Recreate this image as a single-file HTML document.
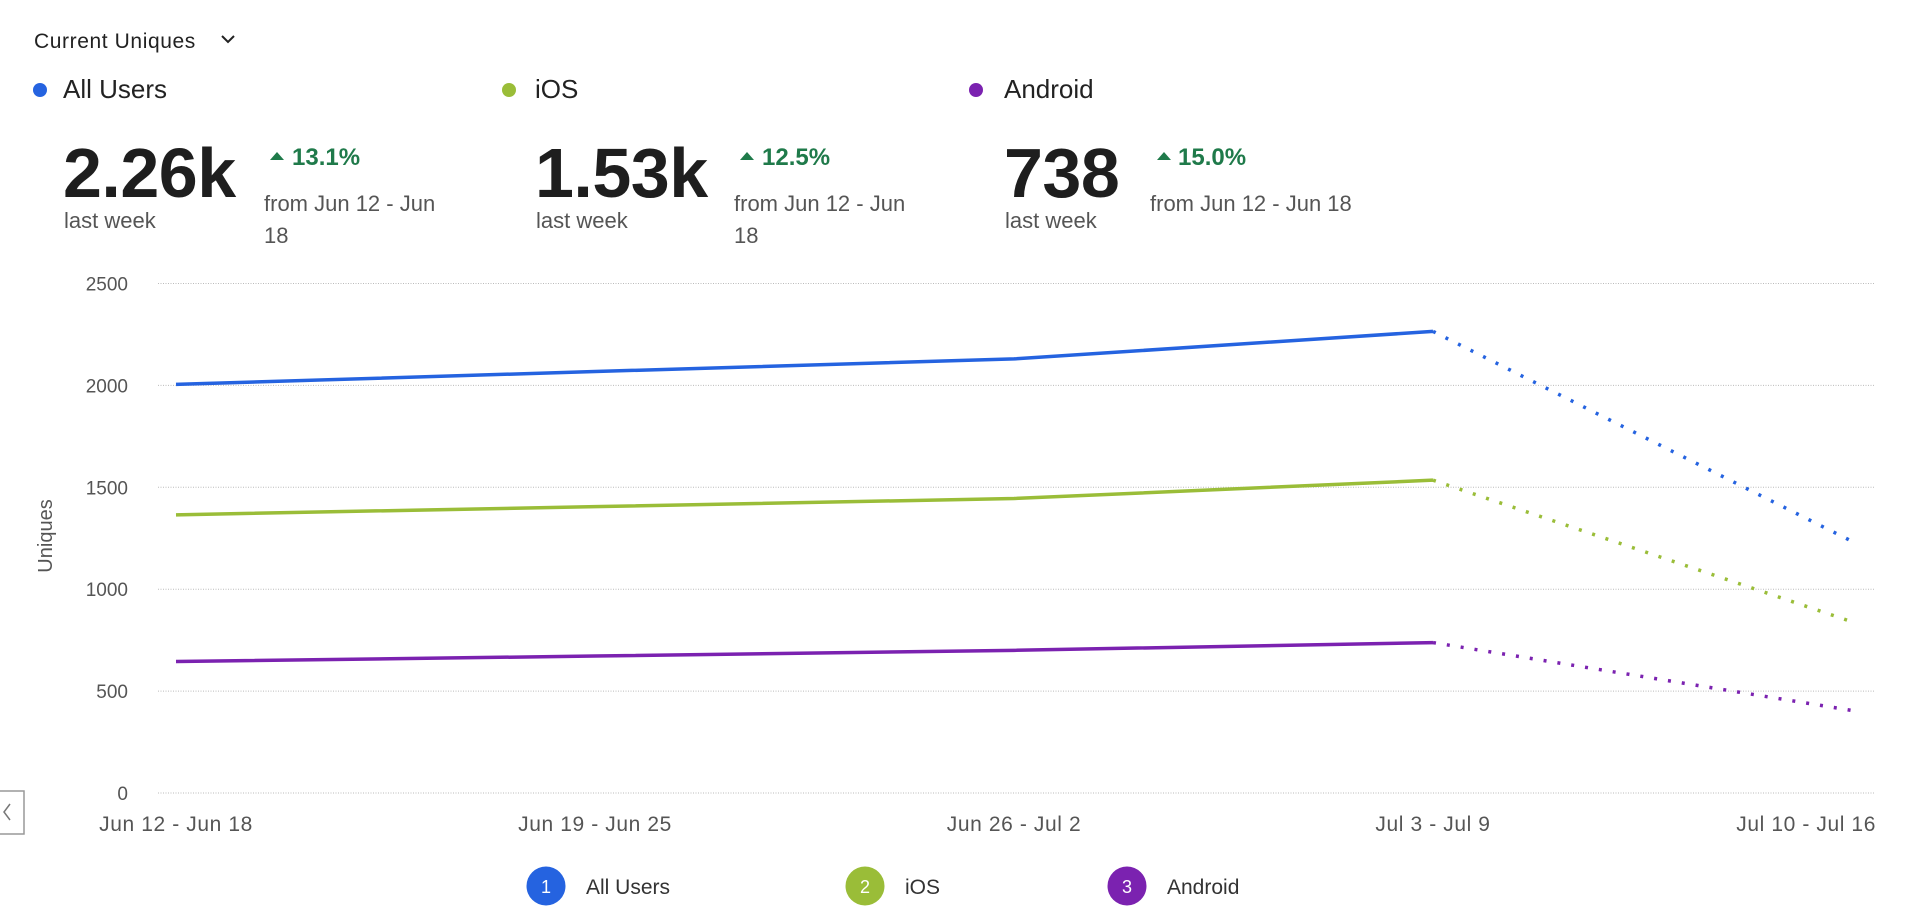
<!DOCTYPE html>
<html><head><meta charset="utf-8"><style>
body{margin:0;width:1908px;height:914px;background:#fff;overflow:hidden;font-family:"Liberation Sans",sans-serif;}
svg{position:absolute;left:0;top:0}
</style></head><body>
<svg width="1908" height="914">
<g>
<text x="34" y="48" font-size="21" fill="#222" letter-spacing="0.6">Current Uniques</text>
<path d="M222 36 l6 6 l6 -6" stroke="#222" stroke-width="2" fill="none"/>
</g>
<g id="cards"></g>
<g id="grid"></g>
<g id="lines"></g>
<text transform="translate(52,536) rotate(-90)" text-anchor="middle" font-size="20" fill="#555">Uniques</text>
<rect x="-2" y="791" width="26" height="43" fill="#fff" stroke="#999" stroke-width="1.5"/>
<path d="M10 804 l-6 8 l6 8" stroke="#777" stroke-width="1.5" fill="none"/>
<g id="legend"></g>
</svg>
<script>
const categories=["Jun 12 - Jun 18","Jun 19 - Jun 25","Jun 26 - Jul 2","Jul 3 - Jul 9","Jul 10 - Jul 16"];
const allUsers=[2005,2068,2130,2265,1235];
const ios=[1365,1405,1445,1535,840];
const android=[645,672,700,738,405];
const yTicks=[0,500,1000,1500,2000,2500];
const seriesNames=["All Users","iOS","Android"];
const bigValues=["2.26k","1.53k","738"];
const changes=["13.1%","12.5%","15.0%"];
const colors=["#2563e0","#9abd38","#7b22b0"];
const NS="http://www.w3.org/2000/svg";
function mk(tag,attrs,parent,txt){const e=document.createElementNS(NS,tag);for(const k in attrs)e.setAttribute(k,attrs[k]);if(txt!==undefined)e.textContent=txt;parent.appendChild(e);return e;}
const x0=176,x1=1852,y0=793,yTop=283.5;
const xs=i=>x0+(x1-x0)*i/(categories.length-1);
const ys=v=>y0-(y0-yTop)*v/2500;
const grid=document.getElementById('grid');
yTicks.forEach(t=>{
 const l=mk('line',{x1:158,x2:1874,y1:ys(t),y2:ys(t),stroke:"#bbb","stroke-width":1,"stroke-dasharray":"1 1.5"},grid);
 
 
 const tx=mk('text',{x:128,y:ys(t)+7,"text-anchor":"end","font-size":19,fill:"#555"},grid,String(t));
 
 
});
categories.forEach((c,i)=>{
 let anchor="middle",xx=xs(i);
 if(i===categories.length-1){anchor="end";xx=1876;}
 const tx=mk('text',{x:xx,y:831,"text-anchor":anchor,"font-size":21,fill:"#555","letter-spacing":"0.6"},grid,c);
 
 
});
const lines=document.getElementById('lines');
[allUsers,ios,android].forEach((s,k)=>{
 const n=s.length;
 const solid=s.slice(0,n-1).map((v,i)=>xs(i)+","+ys(v)).join(" ");
 const p=mk('polyline',{points:solid,fill:"none",stroke:colors[k],"stroke-width":3.5,"stroke-linejoin":"round"},lines);
 
 
 const d=mk('line',{x1:xs(n-2),y1:ys(s[n-2]),x2:xs(n-1),y2:ys(s[n-1]),stroke:colors[k],"stroke-width":3.5,"stroke-dasharray":"3 11"},lines);
 
 
});
const cards=document.getElementById('cards');
const cx=[40,509,976],tx=[63,535,1004],ax=[270,740,1157],px=[292,762,1178];
seriesNames.forEach((nm,k)=>{
 const g=mk('g',{},cards);
 
 
 mk('circle',{cx:cx[k],cy:90,r:7,fill:colors[k]},g);
 mk('text',{x:tx[k],y:98,"font-size":26,fill:"#222"},g,nm);
 mk('text',{x:tx[k],y:197,"font-size":70,"font-weight":"bold",fill:"#1e1e1e","letter-spacing":"-0.5"},g,bigValues[k]);
 mk('text',{x:tx[k]+1,y:228,"font-size":22,fill:"#555"},g,"last week");
 mk('path',{d:`M${ax[k]} 160 l7 -8 l7 8 z`,fill:"#1f7a4a"},g);
 mk('text',{x:px[k],y:165,"font-size":24,"font-weight":"bold",fill:"#1f7a4a"},g,changes[k]);
 if(k<2){
  mk('text',{x:ax[k]-6,y:211,"font-size":22,fill:"#555"},g,"from Jun 12 - Jun");
  mk('text',{x:ax[k]-6,y:243,"font-size":22,fill:"#555"},g,"18");
 } else mk('text',{x:ax[k]-7,y:211,"font-size":22,fill:"#555"},g,"from Jun 12 - Jun 18");
});
const legend=document.getElementById('legend');
const lx=[546,865,1127];
seriesNames.forEach((nm,k)=>{
 const g=mk('g',{},legend);
 
 
 mk('circle',{cx:lx[k],cy:886,r:19.5,fill:colors[k]},g);
 mk('text',{x:lx[k],y:893,"text-anchor":"middle","font-size":18,fill:"#fff"},g,String(k+1));
 mk('text',{x:lx[k]+40,y:894,"font-size":21,fill:"#333"},g,nm);
});
</script>
</body></html>
